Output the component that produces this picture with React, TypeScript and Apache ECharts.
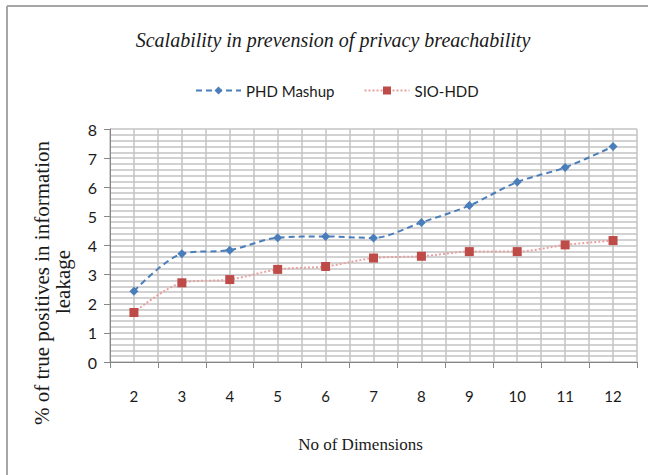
import React, { useEffect, useRef } from "react";
import * as echarts from "echarts";

const categories = ["2", "3", "4", "5", "6", "7", "8", "9", "10", "11", "12"];
const phdMashup = [2.43, 3.72, 3.84, 4.27, 4.31, 4.26, 4.79, 5.37, 6.18, 6.68, 7.4];
const sioHdd = [1.7, 2.72, 2.83, 3.18, 3.28, 3.57, 3.63, 3.79, 3.79, 4.02, 4.17];

const titleText = "Scalability in prevension of privacy breachability";
const xName = "No of Dimensions";
const yNameLine1 = "% of true positives in information";
const yNameLine2 = "leakage";

export default function App() {
  const ref = useRef<HTMLDivElement>(null);
  useEffect(() => {
    if (!ref.current) return;
    const chart = echarts.init(ref.current, null, { renderer: "svg" });
    const gridColor = "#c3c3c3";
    chart.setOption({
      animation: false,
      backgroundColor: "#ffffff",
      title: {
        text: titleText,
        left: 328,
        top: 25,
        textAlign: "center",
        textStyle: {
          fontFamily: "Liberation Serif",
          fontStyle: "italic",
          fontWeight: "normal",
          fontSize: 20,
          color: "#1a1a1a",
        },
      },
      legend: {
        top: 78,
        left: 190,
        itemWidth: 45,
        itemHeight: 10,
        itemGap: 29,
        textStyle: { fontFamily: "Lato", fontSize: 15, color: "#1a1a1a" },
        data: ["PHD Mashup", "SIO-HDD"],
      },
      grid: { left: 110, top: 129, right: 11, bottom: 113, containLabel: false },
      xAxis: [
        {
          type: "category",
          data: categories,
          boundaryGap: true,
          name: xName,
          nameLocation: "middle",
          nameGap: 74,
          nameTextStyle: {
            fontFamily: "Liberation Serif",
            fontSize: 17,
            color: "#1a1a1a",
            padding: [0, 26, 0, 0],
          },
          axisLine: { lineStyle: { color: "#868686", width: 1 } },
          axisTick: { show: true, length: 6, lineStyle: { color: "#868686" } },
          axisLabel: {
            margin: 26,
            fontFamily: "Lato",
            fontSize: 15,
            color: "#1a1a1a",
          },
          splitLine: { show: false },
        },
        {
          type: "value",
          min: 1.5,
          max: 12.5,
          interval: 0.5,
          position: "bottom",
          axisLine: { show: false },
          axisTick: { show: false },
          axisLabel: { show: false },
          splitLine: { show: true, lineStyle: { color: gridColor, width: 1.5 } },
        },
      ],
      yAxis: {
        type: "value",
        min: 0,
        max: 8,
        interval: 1,
        axisLine: { show: true, lineStyle: { color: "#868686", width: 1 } },
        axisTick: { show: true, length: 6, lineStyle: { color: "#868686" } },
        axisLabel: {
          margin: 13,
          fontFamily: "Lato",
          fontSize: 16,
          color: "#1a1a1a",
        },
        splitLine: { show: true, lineStyle: { color: gridColor, width: 1.5 } },
        minorTick: { show: false, splitNumber: 5 },
        minorSplitLine: { show: true, lineStyle: { color: gridColor, width: 1.5 } },
      },
      graphic: [
        {
          type: "text",
          x: 42,
          y: 283,
          rotation: Math.PI / 2,
          style: {
            text: yNameLine1,
            fontFamily: "Liberation Serif",
            fontSize: 21,
            fill: "#1a1a1a",
            align: "center",
            verticalAlign: "middle",
          },
        },
        {
          type: "text",
          x: 63,
          y: 282,
          rotation: Math.PI / 2,
          style: {
            text: yNameLine2,
            fontFamily: "Liberation Serif",
            fontSize: 21,
            fill: "#1a1a1a",
            align: "center",
            verticalAlign: "middle",
          },
        },
        {
          type: "line",
          shape: { x1: 7, y1: 6, x2: 648, y2: 6 },
          style: { stroke: "#a6a6a6", lineWidth: 2 },
        },
        {
          type: "line",
          shape: { x1: 7, y1: 6, x2: 7, y2: 475 },
          style: { stroke: "#a6a6a6", lineWidth: 2 },
        },
      ],
      series: [
        {
          name: "PHD Mashup",
          type: "line",
          xAxisIndex: 0,
          data: phdMashup,
          smooth: 0.3,
          symbol: "diamond",
          symbolSize: 9,
          itemStyle: { color: "#4a7ebb" },
          lineStyle: { color: "#4a7ebb", width: 2, type: [6, 4] },
        },
        {
          name: "SIO-HDD",
          type: "line",
          xAxisIndex: 0,
          data: sioHdd,
          smooth: 0.3,
          symbol: "rect",
          symbolSize: 9,
          itemStyle: { color: "#be4b48" },
          lineStyle: { color: "#e8a2a0", width: 2, type: [2, 2] },
        },
      ],
    });
    return () => chart.dispose();
  }, []);
  return (
    <div
      ref={ref}
      style={{ position: "fixed", left: 0, top: 0, width: 648, height: 475 }}
    />
  );
}
